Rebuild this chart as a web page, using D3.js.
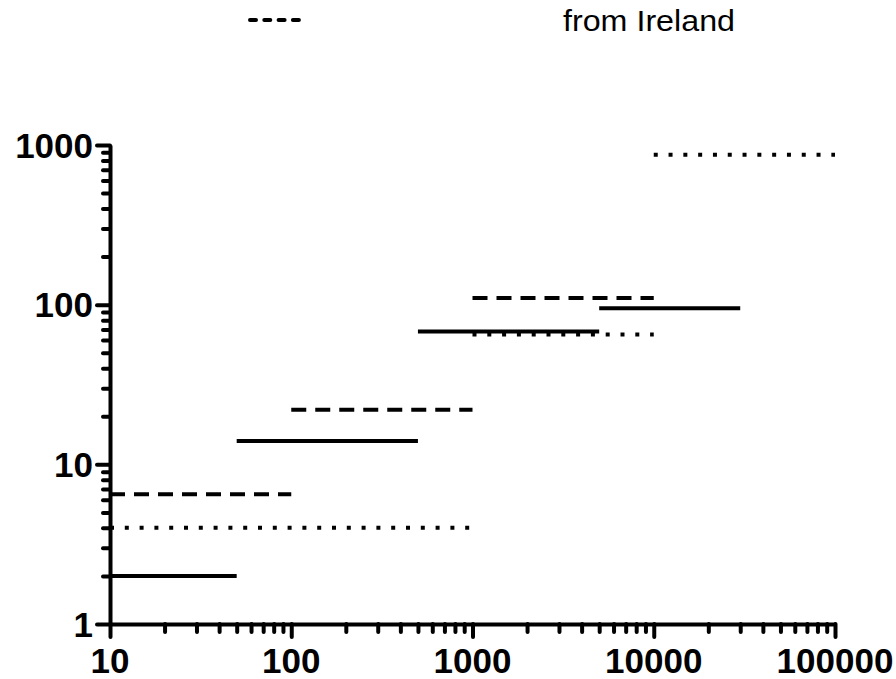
<!DOCTYPE html>
<html>
<head>
<meta charset="utf-8">
<script src="https://cdn.jsdelivr.net/npm/d3@7"></script>
<style>
  body { margin: 0; background: #fff; }
  svg { display: block; font-family: 'Liberation Sans', Arial, Helvetica, sans-serif; }
  .tick-label { font-size: 35px; font-weight: bold; fill: #000; }
  .axis path, .axis line { stroke: #000; stroke-width: 4; }
  .seg { fill: none; stroke: #000; stroke-width: 4; }
</style>
</head>
<body>
<svg width="896" height="679"></svg>
<script>
// solid series (start, end, value)
var solidStart = [10, 50, 500, 5000];
var solidEnd   = [50, 500, 5000, 30000];
var solidValue = [2, 14, 68, 95];

// dashed series
var dashedStart = [10, 100, 1000];
var dashedEnd   = [100, 1000, 10000];
var dashedValue = [6.5, 22, 110];

// dotted series
var dottedStart = [10, 1000, 10000];
var dottedEnd   = [1000, 10000, 100000];
var dottedValue = [4, 65, 870];

var xTickLabels = [10, 100, 1000, 10000, 100000];
var yTickLabels = [1, 10, 100, 1000];
var legendText = 'from Ireland';

var svg = d3.select('svg');

var xScale = d3.scaleLog().domain([10, 100000]).range([110, 835]);
var yScale = d3.scaleLog().domain([1, 1000]).range([624, 145]);

// minor ticks: 2..9 in every decade
function minorTicks(majors) {
    var out = [];
    for (var i = 0; i < majors.length - 1; i++) {
        for (var k = 2; k <= 9; k++) out.push(majors[i] * k);
    }
    return out;
}

// y axis
svg.append('g').attr('class', 'axis')
    .attr('transform', 'translate(110,0)')
    .call(d3.axisLeft(yScale).tickValues(minorTicks(yTickLabels)).tickSize(7).tickSizeOuter(0).tickFormat(''));
svg.append('g').attr('class', 'axis')
    .attr('transform', 'translate(110,0)')
    .call(d3.axisLeft(yScale).tickValues(yTickLabels).tickSize(13).tickSizeOuter(0).tickFormat(''))
    .select('.domain').remove();

// x axis
svg.append('g').attr('class', 'axis')
    .attr('transform', 'translate(0,624)')
    .call(d3.axisBottom(xScale).tickValues(minorTicks(xTickLabels)).tickSize(8).tickSizeOuter(0).tickFormat(''));
svg.append('g').attr('class', 'axis')
    .attr('transform', 'translate(0,624)')
    .call(d3.axisBottom(xScale).tickValues(xTickLabels).tickSize(13).tickSizeOuter(0).tickFormat(''))
    .select('.domain').remove();

svg.selectAll('.axis line').attr('stroke-linecap', 'round');

// tick labels
svg.selectAll('.ylab').data(yTickLabels).enter().append('text')
    .attr('class', 'tick-label ylab')
    .attr('x', 93)
    .attr('y', function(d) { return yScale(d) + 12.5; })
    .attr('text-anchor', 'end')
    .text(function(d) { return d; });

svg.selectAll('.xlab').data(xTickLabels).enter().append('text')
    .attr('class', 'tick-label xlab')
    .attr('x', function(d) { return xScale(d); })
    .attr('y', 673)
    .attr('text-anchor', 'middle')
    .text(function(d) { return d; });

// segments
function drawSegments(starts, ends, values, dash) {
    var rows = starts.map(function(s, i) { return {x0: s, x1: ends[i], y: values[i]}; });
    svg.append('g').selectAll('line').data(rows).enter().append('line')
        .attr('class', 'seg')
        .attr('x1', function(d) { return xScale(d.x0); })
        .attr('x2', function(d) { return xScale(d.x1); })
        .attr('y1', function(d) { return yScale(d.y); })
        .attr('y2', function(d) { return yScale(d.y); })
        .attr('stroke-dasharray', dash);
}

drawSegments(dottedStart, dottedEnd, dottedValue, '4,10.8');
drawSegments(dashedStart, dashedEnd, dashedValue, '15,9');
drawSegments(solidStart, solidEnd, solidValue, null);

// legend fragment at top
svg.append('line')
    .attr('x1', 250).attr('x2', 299)
    .attr('y1', 20).attr('y2', 20)
    .attr('stroke', '#000').attr('stroke-width', 4)
    .attr('stroke-linecap', 'round')
    .attr('stroke-dasharray', '6,8.3');

svg.append('text')
    .attr('x', 563).attr('y', 31)
    .attr('font-size', 29)
    .attr('textLength', 172)
    .attr('lengthAdjust', 'spacingAndGlyphs')
    .text(legendText);
</script>
</body>
</html>
